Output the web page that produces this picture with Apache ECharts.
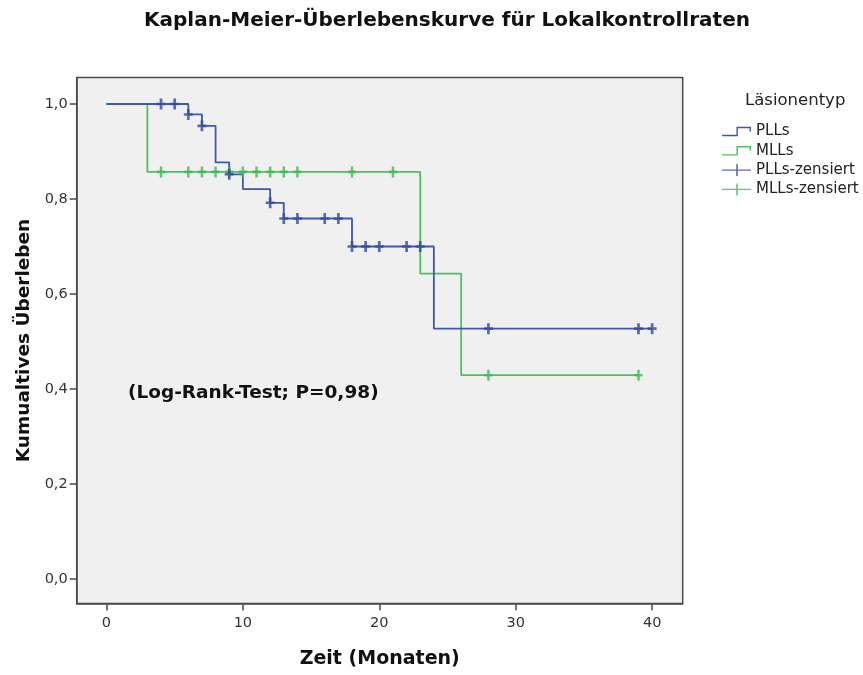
<!DOCTYPE html>
<html>
<head>
<meta charset="utf-8">
<script src="https://cdn.jsdelivr.net/npm/echarts@6/dist/echarts.min.js"></script>
<style>
html,body{margin:0;padding:0;background:#fff;}
#chart{width:863px;height:675px;}
</style>
</head>
<body>
<div id="chart"></div>
<script>
// Kaplan-Meier step points [month, survival]
const pllSteps = [[0,1.0],[6,0.978],[7,0.954],[8,0.877],[9,0.852],[10,0.821],[12,0.792],[13,0.759],[18,0.700],[24,0.527],[40,0.527]];
const mllSteps = [[0,1.0],[3,0.857],[23,0.643],[26,0.429],[39,0.429]];
// censored observations [month, survival]
const pllCensored = [[4,1.0],[5,1.0],[6,0.978],[7,0.954],[9,0.852],[12,0.792],[13,0.759],[14,0.759],[16,0.759],[17,0.759],[18,0.700],[19,0.700],[20,0.700],[22,0.700],[23,0.700],[28,0.527],[39,0.527],[40,0.527]];
const mllCensored = [[4,0.857],[6,0.857],[7,0.857],[8,0.857],[9,0.857],[10,0.857],[11,0.857],[12,0.857],[13,0.857],[14,0.857],[18,0.857],[21,0.857],[28,0.429],[39,0.429]];
const xTicks = [0,10,20,30,40];
const yTicks = [0,0.2,0.4,0.6,0.8,1.0];

const FONT = 'DejaVu Sans';
const BLUE = '#3E58AC', BLUE_D = '#2F48A4', GREEN = '#4DC25B', GREEN_D = '#3DB84C';
const plus = 'path://M2.8,0 H5.2 V3.8 H8 V6.2 H5.2 V10 H2.8 V6.2 H0 V3.8 H2.8 Z';
const stepIcon = 'path://M0,9.3 L14.3,9.3 L14.3,1.3 L28.7,1.3 L28.7,6 L27.3,6 L27.3,2.7 L15.7,2.7 L15.7,10.7 L0,10.7 Z';
const censIcon = 'path://M0,5.3 L14.2,5.3 L14.2,0 L15.8,0 L15.8,5.3 L29,5.3 L29,6.7 L15.8,6.7 L15.8,12 L14.2,12 L14.2,6.7 L0,6.7 Z';

const chart = echarts.init(document.getElementById('chart'), null, {renderer:'canvas'});
chart.setOption({
  animation:false,
  backgroundColor:'#ffffff',
  title:{
    text:'Kaplan-Meier-Überlebenskurve für Lokalkontrollraten',
    left:447, top:11, textAlign:'center', padding:0,
    textStyle:{fontFamily:FONT, fontWeight:'bold', fontSize:20, color:'#111'}
  },
  grid:{left:76.7, top:77.5, right:180.3, bottom:71.5, show:true, backgroundColor:'#F0F0F0', borderColor:'#4a4a4a', borderWidth:1.5},
  legend:{
    orient:'vertical', left:722, top:122, padding:0, itemWidth:29, itemHeight:12, itemGap:0.3,
    textStyle:{fontFamily:FONT, fontSize:15, color:'#222', lineHeight:19},
    data:[
      {name:'PLLs', icon:stepIcon, itemStyle:{color:BLUE}},
      {name:'MLLs', icon:stepIcon, itemStyle:{color:GREEN}},
      {name:'PLLs-zensiert', icon:censIcon, itemStyle:{color:BLUE_D}},
      {name:'MLLs-zensiert', icon:censIcon, itemStyle:{color:GREEN_D}}
    ],
    selectedMode:false
  },
  xAxis:{
    type:'value', min:-2.18, max:42.24,
    name:'Zeit (Monaten)', nameLocation:'middle', nameGap:46,
    nameTextStyle:{fontFamily:FONT, fontWeight:'bold', fontSize:19, color:'#111'},
    axisLine:{show:true, onZero:false, lineStyle:{color:'#4a4a4a', width:1.5}},
    axisTick:{show:true, length:7, customValues:xTicks, lineStyle:{color:'#4a4a4a', width:1.5}},
    axisLabel:{customValues:xTicks, margin:12, fontFamily:FONT, fontSize:14.5, color:'#333'},
    splitLine:{show:false}
  },
  yAxis:{
    type:'value', min:-0.0516, max:1.0558,
    name:'Kumualtives Überleben', nameLocation:'middle', nameGap:40, nameRotate:90,
    nameTextStyle:{fontFamily:FONT, fontWeight:'bold', fontSize:18.5, color:'#111'},
    axisLine:{show:true, onZero:false, lineStyle:{color:'#4a4a4a', width:1.5}},
    axisTick:{show:true, length:7, customValues:yTicks, lineStyle:{color:'#4a4a4a', width:1.5}},
    axisLabel:{customValues:yTicks, margin:9, fontFamily:FONT, fontSize:14.5, color:'#333',
      formatter:function(v){return v.toFixed(1).replace('.', ',');}},
    splitLine:{show:false}
  },
  graphic:[
    {type:'text', left:745, top:92, style:{text:'Läsionentyp', fontFamily:FONT, fontSize:16.5, fill:'#222'}},
    {type:'text', left:128, top:384, style:{text:'(Log-Rank-Test; P=0,98)', fontFamily:FONT, fontWeight:'bold', fontSize:18.5, fill:'#111'}}
  ],
  series:[
    {name:'PLLs', type:'line', step:'end', data:pllSteps, showSymbol:false, symbol:'none',
      lineStyle:{color:BLUE, width:1.8}, itemStyle:{color:BLUE}, z:3},
    {name:'MLLs', type:'line', step:'end', data:mllSteps, showSymbol:false, symbol:'none',
      lineStyle:{color:GREEN, width:1.8}, itemStyle:{color:GREEN}, z:2},
    {name:'PLLs-zensiert', type:'scatter', data:pllCensored, symbol:plus, symbolSize:[9,11],
      itemStyle:{color:BLUE_D}, z:5},
    {name:'MLLs-zensiert', type:'scatter', data:mllCensored, symbol:plus, symbolSize:[8,11],
      itemStyle:{color:GREEN_D}, z:4}
  ]
});
</script>
</body>
</html>
